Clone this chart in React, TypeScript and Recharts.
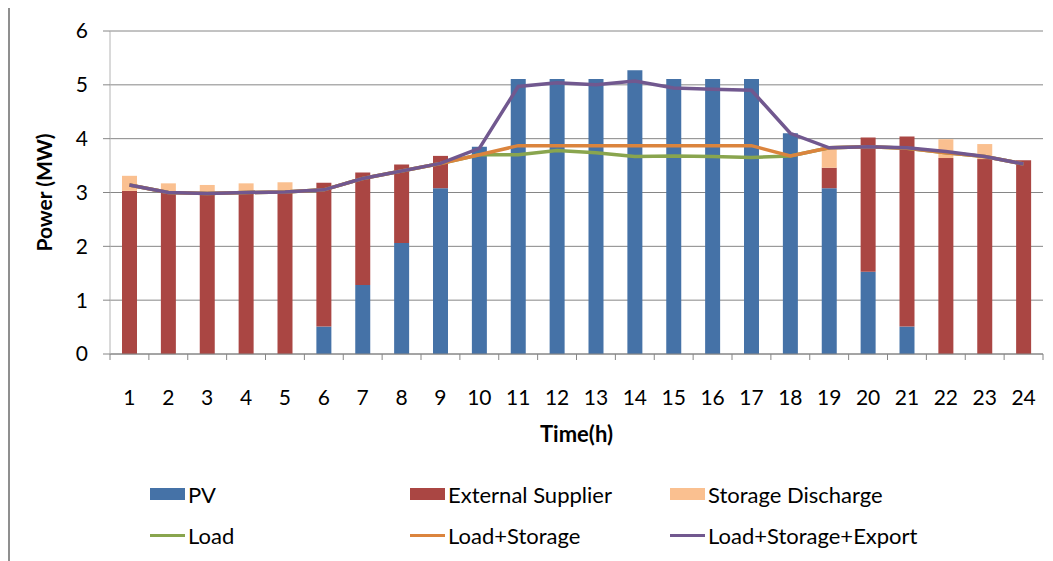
import React from 'react'
import { ComposedChart, Bar, Line, XAxis, YAxis, CartesianGrid, Legend } from 'recharts'

const hours = ['1', '2', '3', '4', '5', '6', '7', '8', '9', '10', '11', '12', '13', '14', '15', '16', '17', '18', '19', '20', '21', '22', '23', '24']
const pv = [0, 0, 0, 0, 0, 0.51, 1.28, 2.06, 3.08, 3.85, 5.11, 5.11, 5.11, 5.27, 5.11, 5.11, 5.11, 4.1, 3.08, 1.53, 0.51, 0, 0, 0]
const external = [3.03, 3.0, 2.98, 3.0, 3.0, 2.67, 2.09, 1.46, 0.6, 0, 0, 0, 0, 0, 0, 0, 0, 0, 0.38, 2.49, 3.53, 3.64, 3.62, 3.6]
const storage = [0.28, 0.17, 0.16, 0.17, 0.19, 0, 0, 0, 0, 0, 0, 0, 0, 0, 0, 0, 0, 0, 0.34, 0, 0, 0.35, 0.28, 0]
const load = [3.14, 3.0, 2.98, 3.0, 3.01, 3.05, 3.26, 3.4, 3.54, 3.7, 3.7, 3.78, 3.74, 3.67, 3.68, 3.67, 3.65, 3.68, 3.83, 3.85, 3.82, 3.74, 3.67, 3.53]
const loadStorage = [3.14, 3.0, 2.98, 3.0, 3.01, 3.05, 3.26, 3.4, 3.54, 3.7, 3.87, 3.87, 3.87, 3.87, 3.87, 3.87, 3.87, 3.68, 3.83, 3.85, 3.82, 3.74, 3.67, 3.53]
const loadStorageExport = [3.14, 3.0, 2.98, 3.0, 3.01, 3.05, 3.26, 3.4, 3.54, 3.82, 4.97, 5.04, 5.0, 5.07, 4.94, 4.92, 4.9, 4.1, 3.83, 3.85, 3.83, 3.76, 3.67, 3.53]
const yTicks = [0, 1, 2, 3, 4, 5, 6]
const legendOrder = ['PV', 'External Supplier', 'Storage Discharge', 'Load', 'Load+Storage', 'Load+Storage+Export']

const data = hours.map((h, i) => ({
  hour: h,
  pv: pv[i],
  external: external[i],
  storage: storage[i],
  load: load[i],
  loadStorage: loadStorage[i],
  loadStorageExport: loadStorageExport[i],
}))

const font = 'Lato, "Noto Sans", sans-serif'
const TICK_SIZE = 6
const TICK_MARGIN = 30

// category label plus Excel-style tick marks on the band edges
function HourTick(props: any) {
  const { x, y, payload, index, visibleTicksCount, width } = props
  const half = Number(payload.offset) || width / visibleTicksCount / 2
  const axisY = y - TICK_SIZE - TICK_MARGIN
  const last = index === visibleTicksCount - 1
  return (
    <g>
      <line x1={x - half} x2={x - half} y1={axisY} y2={axisY + TICK_SIZE} stroke="#868686" strokeWidth={1} />
      {last && <line x1={x + half} x2={x + half} y1={axisY} y2={axisY + TICK_SIZE} stroke="#868686" strokeWidth={1} />}
      <text x={x} y={y} dy="0.71em" textAnchor="middle" fill="#000" fontSize={21} fontFamily={font}>
        {payload.value}
      </text>
    </g>
  )
}

function ChartLegend({ payload }: any) {
  const items = [...(payload || [])].sort((a: any, b: any) => legendOrder.indexOf(a.value) - legendOrder.indexOf(b.value))
  const rows = [items.slice(0, 3), items.slice(3, 6)]
  return (
    <div style={{ fontFamily: font, fontSize: 22, color: '#000' }}>
      {rows.map((row: any[], r: number) => (
        <div key={r} style={{ display: 'flex', paddingLeft: 140, height: 24, marginTop: r === 0 ? 14 : 17 }}>
          {row.map((e: any) => (
            <div key={e.value} style={{ width: 260, display: 'flex', alignItems: 'center' }}>
              {e.type === 'line' ? (
                <span style={{ width: 35, height: 3, background: e.color, display: 'inline-block', marginRight: 3 }} />
              ) : (
                <span style={{ width: 35, height: 12, background: e.color, display: 'inline-block', marginRight: 3 }} />
              )}
              <span>{e.value}</span>
            </div>
          ))}
        </div>
      ))}
    </div>
  )
}

export default function App() {
  return (
    <div style={{ marginTop: -2, width: 1045, height: 555, borderLeft: '2px solid #8f8f8f', borderTop: '2px solid #8f8f8f', boxSizing: 'border-box' }}>
      <ComposedChart width={1040} height={550} data={data} margin={{ top: 23, right: 7, left: 0, bottom: 0 }} barSize={15}>
        <CartesianGrid vertical={false} stroke="#868686" strokeWidth={1} />
        <XAxis
          dataKey="hour"
          height={114}
          tickLine={false}
          tickSize={TICK_SIZE}
          tickMargin={TICK_MARGIN}
          axisLine={{ stroke: '#868686' }}
          tick={<HourTick />}
          interval={0}
          label={{ value: 'Time(h)', position: 'insideTop', offset: 72, fill: '#000', fontSize: 22, fontWeight: 'bold', fontFamily: font }}
        />
        <YAxis
          width={100}
          domain={[0, 6]}
          ticks={yTicks}
          interval={0}
          axisLine={{ stroke: '#b4b4b4' }}
          tickLine={{ stroke: '#868686' }}
          tickSize={7}
          tickMargin={15}
          tick={{ fill: '#000', fontSize: 21, fontFamily: font }}
          label={{ value: 'Power (MW)', angle: -90, position: 'insideLeft', offset: 35, fill: '#000', fontSize: 21, fontWeight: 'bold', fontFamily: font, style: { textAnchor: 'middle' } }}
        />
        <Bar dataKey="pv" name="PV" stackId="a" fill="#4572A7" isAnimationActive={false} />
        <Bar dataKey="external" name="External Supplier" stackId="a" fill="#AA4643" isAnimationActive={false} />
        <Bar dataKey="storage" name="Storage Discharge" stackId="a" fill="#FAC090" isAnimationActive={false} />
        <Line dataKey="load" name="Load" stroke="#89A54E" strokeWidth={3.5} dot={false} isAnimationActive={false} />
        <Line dataKey="loadStorage" name="Load+Storage" stroke="#DB843D" strokeWidth={3.5} dot={false} isAnimationActive={false} />
        <Line dataKey="loadStorageExport" name="Load+Storage+Export" stroke="#71588F" strokeWidth={3.5} dot={false} isAnimationActive={false} />
        <Legend verticalAlign="bottom" height={90} width={1040} wrapperStyle={{ left: 0 }} content={<ChartLegend />} />
      </ComposedChart>
    </div>
  )
}
